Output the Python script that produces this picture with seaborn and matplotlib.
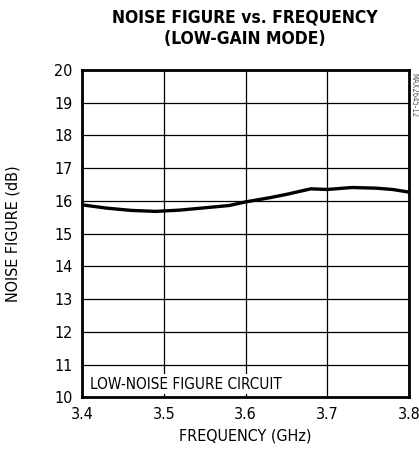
import numpy as np
import pandas as pd
import seaborn as sns
import matplotlib.pyplot as plt

# curve
freq_ghz = [3.40, 3.43, 3.46, 3.49, 3.52, 3.55, 3.58, 3.60, 3.63, 3.65, 3.68, 3.70, 3.73, 3.76, 3.78, 3.80]
noise_db = [15.88, 15.78, 15.71, 15.68, 15.72, 15.79, 15.86, 15.97, 16.10, 16.20, 16.37, 16.35, 16.41, 16.39, 16.35, 16.27]

x_ticks = [3.4, 3.5, 3.6, 3.7, 3.8]
y_ticks = list(range(10, 21))

sns.set_theme(style="white")
plt.rcParams['font.family'] = ['DejaVu Sans']
plt.rcParams['font.stretch'] = 'condensed'
plt.rcParams['text.color'] = 'black'

df = pd.DataFrame({'freq': freq_ghz, 'nf': noise_db})

fig = plt.figure(figsize=(4.19, 4.55), dpi=100)
ax = fig.add_axes([0.196, 0.127, 0.78, 0.719])

sns.lineplot(data=df, x='freq', y='nf', color='black', linewidth=2.4, ax=ax)

ax.set_xlim(3.4, 3.8)
ax.set_ylim(10, 20)
ax.set_xticks(x_ticks)
ax.set_xticklabels([f'{t:.1f}' for t in x_ticks])
ax.set_yticks(y_ticks)
ax.grid(True, color='black', linewidth=0.9)
for s in ax.spines.values():
    s.set_color('black')
    s.set_linewidth(2)
ax.tick_params(axis='both', length=0, labelsize=11.5, colors='black', pad=7)

ax.set_xlabel('FREQUENCY (GHz)', fontsize=11.5, color='black', labelpad=5)
ax.set_ylabel('NOISE FIGURE (dB)', fontsize=11.5, color='black', labelpad=24)

fig.text(0.585, 0.937, 'NOISE FIGURE vs. FREQUENCY\n(LOW-GAIN MODE)', ha='center', va='center',
         fontsize=12.5, fontweight='bold', linespacing=1.25)

ax.text(0.025, 0.04, 'LOW-NOISE FIGURE CIRCUIT', transform=ax.transAxes, fontsize=11,
        ha='left', va='center', bbox=dict(facecolor='white', edgecolor='none', pad=1.5), zorder=5)

fig.text(0.988, 0.84, 'MAX2645-12', rotation=270, ha='center', va='top', fontsize=5.5, color='#555555')

plt.savefig('out.png', dpi=100)
